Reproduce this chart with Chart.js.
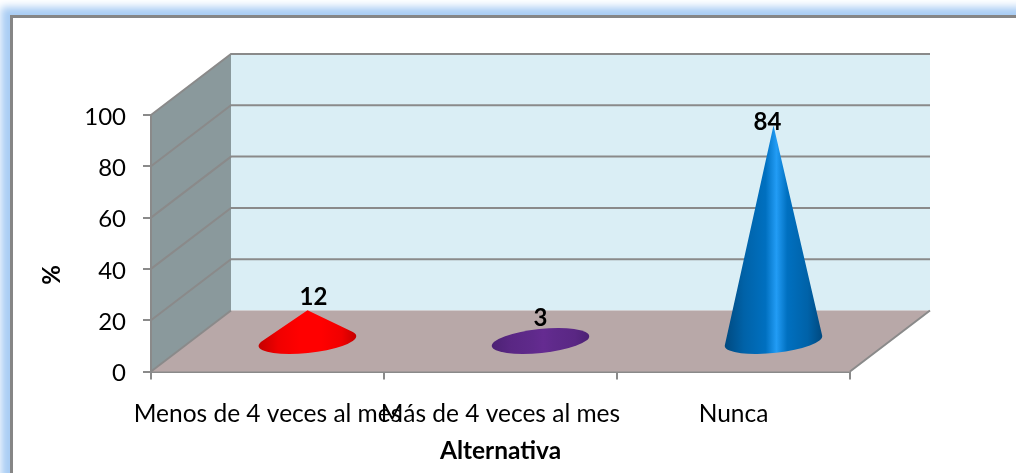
<!DOCTYPE html>
<html>
<head>
<meta charset="utf-8">
<style>
  html, body { margin: 0; padding: 0; background: #fff; overflow: hidden; }
  #frame { position: absolute; left: 10px; top: 15px; width: 1100px; height: 457px; background: #fff;
           border-left: 3px solid #868686; border-top: 3px solid #868686; border-bottom: 1px solid #ccc;
           box-shadow: -2px -1px 8px 7px #a9cdf4; }
  #alternativasChart { position: absolute; left: 0; top: 0; }
</style>
<script src="https://cdn.jsdelivr.net/npm/chart.js@4"></script>
</head>
<body>
<div id="frame"></div>
<canvas id="alternativasChart" width="1016" height="473"></canvas>
<script>
const categories = ['Menos de 4 veces al mes', 'Más de 4 veces al mes', 'Nunca'];
const porcentajes = [12, 3, 84];
const yTicks = [0, 20, 40, 60, 80, 100];
const yTitle = '%';
const xTitle = 'Alternativa';
// edge, shoulder, middle, highlight
const coneShades = [
    ['#c40000', '#f00000', '#ff0000', '#ff0000'],
    ['#4c2274', '#5a2784', '#5f2a8b', '#652b91'],
    ['#00497f', '#0062a8', '#0070c0', '#229cf5']
];

const font = 'Lato, Carlito, sans-serif';
const gray = '#8a8a8a';
const depthX = 80, depthY = -61;
const labelShift = [[6, -13], [0, -15], [-6, -3]];

function poly(ctx, pts, fill) {
    ctx.beginPath();
    pts.forEach((p, i) => i ? ctx.lineTo(p[0], p[1]) : ctx.moveTo(p[0], p[1]));
    ctx.closePath();
    ctx.fillStyle = fill;
    ctx.fill();
}

const room = {
    id: 'room',
    beforeDatasetsDraw(chart) {
        const { ctx, chartArea: a, scales: { y } } = chart;
        const bx = a.left + depthX, bTop = a.top + depthY, bBot = a.bottom + depthY;
        const rx = a.right + depthX;
        ctx.save();
        poly(ctx, [[a.left, a.top], [bx, bTop], [bx, bBot], [a.left, a.bottom]], '#8a999c');
        poly(ctx, [[bx, bTop], [rx, bTop], [rx, bBot], [bx, bBot]], '#daeef5');
        poly(ctx, [[a.left, a.bottom], [a.right, a.bottom], [rx, bBot], [bx, bBot]], '#b8a8a8');

        ctx.lineWidth = 2;
        ctx.strokeStyle = gray;
        yTicks.forEach(v => {
            const py = y.getPixelForValue(v);
            ctx.beginPath();
            ctx.moveTo(a.left, py);
            ctx.lineTo(bx, py + depthY);
            if (v > 0) ctx.lineTo(rx, py + depthY);
            ctx.stroke();
        });
        ctx.beginPath();
        ctx.moveTo(a.right, a.bottom);
        ctx.lineTo(rx, bBot);
        ctx.moveTo(a.left, a.top);
        ctx.lineTo(a.left, a.bottom);
        ctx.stroke();
        ctx.restore();
    },
    afterDatasetsDraw(chart) {
        const { ctx } = chart;
        const bars = chart.getDatasetMeta(0).data;
        ctx.save();
        bars.forEach((bar, i) => {
            // cones stand halfway into the floor
            const cx = bar.x + depthX / 2, cy = bar.base + depthY / 2 + 1;
            const apexY = bar.y + depthY / 2;
            const rx = bar.width / 2, ry = 12, rot = -6 * Math.PI / 180;

            const g = ctx.createLinearGradient(cx - rx, 0, cx + rx, 0);
            const s = coneShades[i];
            g.addColorStop(0, s[0]);
            g.addColorStop(0.2, s[1]);
            g.addColorStop(0.42, s[2]);
            g.addColorStop(0.53, s[3]);
            g.addColorStop(0.64, s[2]);
            g.addColorStop(0.85, s[1]);
            g.addColorStop(1, s[0]);
            ctx.fillStyle = g;

            // apex in the ellipse's own frame, for the tangent points
            const dy = apexY - cy;
            const u = (dy * Math.sin(rot)) / rx, v = (dy * Math.cos(rot)) / ry;
            const d = Math.hypot(u, v);
            ctx.beginPath();
            if (d > 1) {
                const phi = Math.atan2(v, u), t = Math.acos(1 / d);
                ctx.moveTo(cx, apexY);
                ctx.ellipse(cx, cy, rx, ry, rot, phi + t, phi - t);
                ctx.closePath();
            } else {
                ctx.ellipse(cx, cy, rx, ry, rot, 0, Math.PI * 2);
            }
            ctx.fill();

            ctx.fillStyle = '#000';
            ctx.font = 'bold 24px ' + font;
            ctx.textAlign = 'center';
            ctx.textBaseline = 'middle';
            ctx.fillText(porcentajes[i], cx + labelShift[i][0], apexY + labelShift[i][1]);
        });

        ctx.translate(52, 275);
        ctx.rotate(-Math.PI / 2);
        ctx.font = 'bold 24px ' + font;
        ctx.textAlign = 'center';
        ctx.textBaseline = 'middle';
        ctx.fillStyle = '#000';
        ctx.fillText(yTitle, 0, 0);
        ctx.restore();
    }
};

new Chart(document.getElementById('alternativasChart'), {
    type: 'bar',
    data: {
        labels: categories,
        datasets: [{
            label: yTitle,
            data: porcentajes,
            backgroundColor: 'rgba(0,0,0,0)',
            barThickness: 98
        }]
    },
    options: {
        responsive: false,
        animation: false,
        layout: { padding: { left: 0, top: 115, right: 166, bottom: 7 } },
        plugins: { legend: { display: false }, tooltip: { enabled: false } },
        scales: {
            x: {
                afterFit: s => { s.height = 94.5; },
                grid: { drawOnChartArea: false, color: gray, lineWidth: 2, tickLength: 8, offset: true },
                border: { color: gray, width: 2 },
                ticks: { color: '#000', font: { family: font, size: 24.5 }, maxRotation: 0, minRotation: 0, autoSkip: false, padding: 20 },
                title: { display: true, text: xTitle, color: '#000', font: { family: font, size: 24.5, weight: 'bold' }, padding: 0 }
            },
            y: {
                min: 0,
                max: 100,
                afterFit: s => { s.width = 151; },
                afterBuildTicks: s => { s.ticks = yTicks.map(v => ({ value: v })); },
                grid: { drawOnChartArea: false, color: gray, lineWidth: 2, tickLength: 8 },
                border: { color: gray, width: 2 },
                ticks: { color: '#000', font: { family: font, size: 24 }, padding: 17, labelOffset: 2 }
            }
        }
    },
    plugins: [room]
});
</script>
</body>
</html>
